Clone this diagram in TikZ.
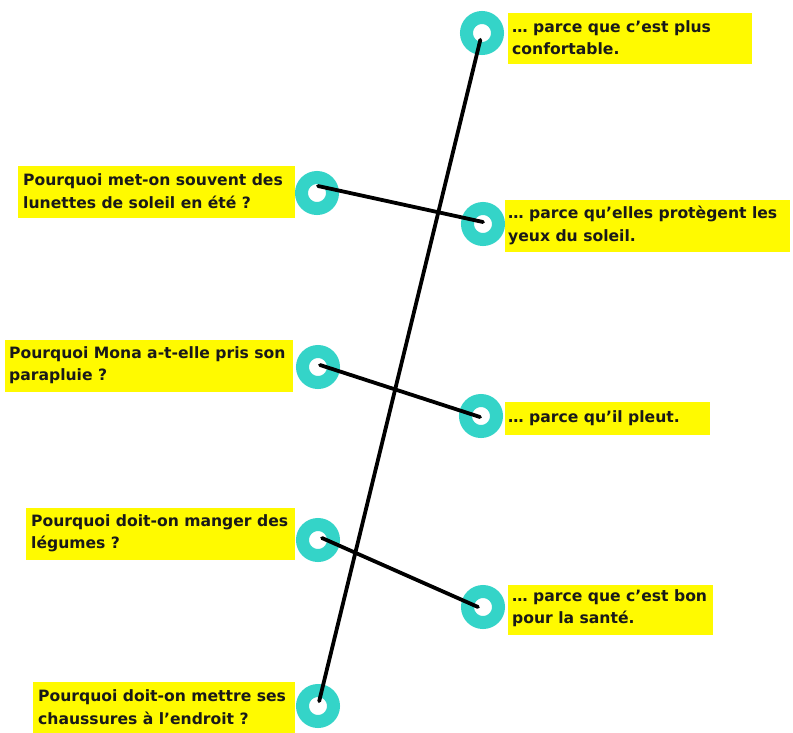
\documentclass[tikz,border=0pt]{standalone}
\usepackage{fontspec}
\setmainfont{DejaVu Sans}
\usetikzlibrary{calc}
\definecolor{ringc}{RGB}{52,212,200}
\definecolor{boxy}{RGB}{255,250,0}
\definecolor{txt}{RGB}{25,25,25}
\tikzset{
  ybox/.style={rectangle, fill=boxy, inner sep=0pt, anchor=north west},
  ytext/.style={anchor=west, align=left, inner sep=0pt, text=txt,
    font=\bfseries\fontsize{15.6}{22.5}\selectfont},
  ring/.style={circle, draw=ringc, line width=13pt, fill=white,
    minimum size=31pt, inner sep=0pt, outer sep=0pt},
  link/.style={line width=3.8pt, black, line cap=round}
}
\begin{document}
\begin{tikzpicture}[x=1pt,y=-1pt]
\useasboundingbox (0,0) rectangle (793,732);
\fill[white] (0,0) rectangle (793,732);
% boxes
\node[ybox, minimum width=244pt, minimum height=51pt] (b1) at (508,13) {};
\node[ybox, minimum width=285pt, minimum height=52pt] (b2) at (505,200) {};
\node[ybox, minimum width=205pt, minimum height=33pt] (b3) at (505,402) {};
\node[ybox, minimum width=205pt, minimum height=50pt] (b4) at (508,585) {};
\node[ybox, minimum width=277pt, minimum height=52pt] (q1) at (18,166) {};
\node[ybox, minimum width=288pt, minimum height=52pt] (q2) at (5,340) {};
\node[ybox, minimum width=269pt, minimum height=52pt] (q3) at (26,508) {};
\node[ybox, minimum width=262pt, minimum height=52pt] (q4) at (33,682) {};
% texts
\node[ytext] (t1) at ($(b1.west)+(4,-1)$) {… parce que c’est plus\\confortable.};
\node[ytext] (t2) at ($(b2.west)+(3,-1)$) {… parce qu’elles protègent les\\yeux du soleil.};
\node[ytext] (t3) at ($(b3.west)+(3,-1)$) {… parce qu’il pleut.};
\node[ytext] (t4) at ($(b4.west)+(4,-2)$) {… parce que c’est bon\\pour la santé.};
\node[ytext] (s1) at ($(q1.west)+(5,-1)$) {Pourquoi met-on souvent des\\lunettes de soleil en été ?};
\node[ytext] (s2) at ($(q2.west)+(4,-1)$) {Pourquoi Mona a-t-elle pris son\\parapluie ?};
\node[ytext] (s3) at ($(q3.west)+(5,-1)$) {Pourquoi doit-on manger des\\légumes ?};
\node[ytext] (s4) at ($(q4.west)+(5,-1)$) {Pourquoi doit-on mettre ses\\chaussures à l’endroit ?};
% rings
\node[ring] (r1) at (482,33) {};
\node[ring] (r2) at (483,224) {};
\node[ring] (r3) at (481,416) {};
\node[ring] (r4) at (483,607) {};
\node[ring] (l1) at (317,193) {};
\node[ring] (l2) at (318,367) {};
\node[ring] (l3) at (318,540) {};
\node[ring] (l4) at (318,706) {};
% links
\draw[link] ($(r1.center)!7pt!(l4.center)$) -- ($(l4.center)!5pt!(r1.center)$);
\draw[link] ($(l1.center)+(1,-7)$) -- ($(r2.center)+(0,-2)$);
\draw[link] ($(l2.center)+(2,-2)$) -- ($(r3.center)+(-1,1)$);
\draw[link] ($(l3.center)+(4,-2)$) -- ($(r4.center)+(-5,0)$);
\end{tikzpicture}
\end{document}
